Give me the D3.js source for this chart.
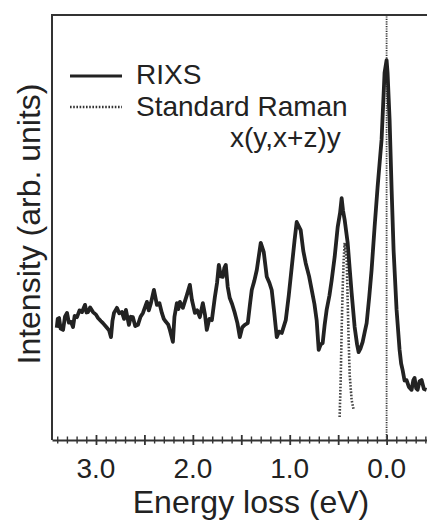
<!DOCTYPE html>
<html>
<head>
    <meta charset="utf-8">
    <title>RIXS vs Raman</title>
    <style>
        body { margin: 0; background: #fff; }
        svg { display: block; font-family: "Liberation Sans", Arial, sans-serif; }
    </style>
</head>
<body>
    <script src="https://cdnjs.cloudflare.com/ajax/libs/d3/7.8.5/d3.min.js"></script>
    <script>

// energy loss (eV) and intensity (arb. units)
var rixsEnergy = [3.405, 3.395, 3.381, 3.365, 3.340, 3.320, 3.299, 3.280, 3.258, 3.237,
    3.220, 3.196, 3.170, 3.144, 3.113, 3.098, 3.082, 3.060, 3.031, 3.000,
    2.979, 2.950, 2.928, 2.887, 2.865, 2.845, 2.830, 2.814, 2.784, 2.760,
    2.732, 2.710, 2.691, 2.660, 2.640, 2.619, 2.595, 2.567, 2.540, 2.515,
    2.474, 2.455, 2.433, 2.402, 2.371, 2.345, 2.320, 2.300, 2.278, 2.255,
    2.237, 2.206, 2.190, 2.165, 2.150, 2.134, 2.103, 2.062, 2.031, 2.010,
    1.979, 1.955, 1.928, 1.897, 1.875, 1.856, 1.830, 1.804, 1.773, 1.750,
    1.732, 1.711, 1.691, 1.675, 1.660, 1.640, 1.619, 1.595, 1.567, 1.540,
    1.515, 1.490, 1.464, 1.433, 1.410, 1.392, 1.365, 1.340, 1.299, 1.268,
    1.237, 1.210, 1.186, 1.160, 1.134, 1.110, 1.082, 1.041, 1.010, 0.979,
    0.950, 0.928, 0.887, 0.860, 0.835, 0.800, 0.773, 0.745, 0.722, 0.701,
    0.680, 0.660, 0.640, 0.619, 0.590, 0.567, 0.536, 0.505, 0.480, 0.464,
    0.450, 0.433, 0.402, 0.380, 0.361, 0.330, 0.305, 0.289, 0.270, 0.247,
    0.225, 0.206, 0.180, 0.155, 0.124, 0.093, 0.052, 0.021, 0.000, -0.010,
    -0.031, -0.052, -0.072, -0.103, -0.134, -0.150, -0.165, -0.185, -0.206, -0.230,
    -0.258, -0.275, -0.289, -0.305, -0.320, -0.340, -0.361, -0.385, -0.412];
var rixsIntensity = [0.264, 0.285, 0.287, 0.262, 0.259, 0.290, 0.299, 0.276, 0.278, 0.266,
    0.292, 0.289, 0.305, 0.301, 0.318, 0.300, 0.301, 0.312, 0.301, 0.295,
    0.287, 0.280, 0.275, 0.264, 0.258, 0.242, 0.280, 0.299, 0.311, 0.298,
    0.301, 0.285, 0.306, 0.271, 0.290, 0.289, 0.268, 0.271, 0.290, 0.299,
    0.325, 0.305, 0.322, 0.353, 0.318, 0.322, 0.299, 0.285, 0.278, 0.272,
    0.259, 0.231, 0.290, 0.322, 0.308, 0.325, 0.311, 0.341, 0.365, 0.330,
    0.299, 0.305, 0.289, 0.322, 0.295, 0.259, 0.285, 0.282, 0.336, 0.370,
    0.412, 0.385, 0.384, 0.405, 0.412, 0.360, 0.334, 0.320, 0.299, 0.275,
    0.242, 0.265, 0.271, 0.275, 0.320, 0.353, 0.375, 0.400, 0.464, 0.442,
    0.384, 0.370, 0.353, 0.300, 0.242, 0.255, 0.252, 0.282, 0.340, 0.407,
    0.470, 0.513, 0.494, 0.445, 0.416, 0.385, 0.353, 0.320, 0.282, 0.212,
    0.225, 0.228, 0.270, 0.306, 0.340, 0.376, 0.431, 0.501, 0.535, 0.569,
    0.540, 0.518, 0.464, 0.400, 0.346, 0.266, 0.225, 0.207, 0.215, 0.231,
    0.255, 0.275, 0.335, 0.400, 0.501, 0.595, 0.706, 0.864, 0.894, 0.864,
    0.753, 0.588, 0.447, 0.306, 0.212, 0.180, 0.165, 0.140, 0.141, 0.125,
    0.118, 0.140, 0.146, 0.122, 0.118, 0.138, 0.141, 0.120, 0.118];

// standard Raman: phonon band and the elastic line at zero loss
var ramanEnergy = [0.485, 0.474, 0.464, 0.454, 0.443, 0.433, 0.412, 0.402, 0.392, 0.381, 0.361, 0.340];
var ramanIntensity = [0.054, 0.141, 0.259, 0.353, 0.424, 0.464, 0.424, 0.329, 0.235, 0.153, 0.094, 0.071];
var elasticEnergy = [0.0, 0.0];
var elasticIntensity = [0.0, 1.0];

var majorTicks = [3.0, 2.5, 2.0, 1.5, 1.0, 0.5, 0.0];
var tickLabels = [3.0, 2.0, 1.0, 0.0];
var legendNames = ["RIXS", "Standard Raman"];
var geometryLabel = "x(y,x+z)y";

var config = {
    width: 427,
    height: 527,
    left: 52,
    top: 15,
    bottom: 440,
    right: 430
};

var svg = d3.select("body").append("svg")
    .attr("width", config.width)
    .attr("height", config.height);

var x = d3.scaleLinear().domain([3.454, -0.448]).range([config.left, config.right]);
var y = d3.scaleLinear().domain([0, 1]).range([config.bottom, config.top]);

var zip = function (xs, ys) {
    return xs.map(function (v, i) { return { e: v, i: ys[i] }; });
};
var line = d3.line()
    .x(function (d) { return x(d.e); })
    .y(function (d) { return y(d.i); });

svg.append("clipPath").attr("id", "clip")
    .append("rect")
    .attr("x", config.left).attr("y", config.top)
    .attr("width", config.right - config.left)
    .attr("height", config.bottom - config.top);

var plot = svg.append("g").attr("clip-path", "url(#clip)");

// elastic line
plot.append("path")
    .datum(zip(elasticEnergy, elasticIntensity))
    .attr("d", line)
    .attr("fill", "none")
    .attr("stroke", "#333")
    .attr("stroke-width", 1.8)
    .attr("stroke-dasharray", "1.2,1.2");

// raman phonon band
plot.append("path")
    .datum(zip(ramanEnergy, ramanIntensity))
    .attr("d", line)
    .attr("fill", "none")
    .attr("stroke", "#444")
    .attr("stroke-width", 2.6)
    .attr("stroke-dasharray", "1.6,1.6");

// rixs
plot.append("path")
    .datum(zip(rixsEnergy, rixsIntensity))
    .attr("d", line)
    .attr("fill", "none")
    .attr("stroke", "#222")
    .attr("stroke-width", 3.8)
    .attr("stroke-linejoin", "round");

// frame
svg.append("path")
    .attr("d", "M" + config.left + "," + config.bottom + "V" + config.top + "H" + config.right)
    .attr("fill", "none")
    .attr("stroke", "#333")
    .attr("stroke-width", 2);

// bottom axis, ticks cross the line
var minorTicks = d3.range(34, -5, -1).map(function (k) { return k / 10; });
var axis = svg.append("g")
    .attr("transform", "translate(0," + config.bottom + ")")
    .call(d3.axisBottom(x).tickValues(minorTicks).tickSize(0).tickFormat(""));
axis.select(".domain").attr("stroke", "#333").attr("stroke-width", 2);
axis.selectAll(".tick line")
    .attr("y1", function (d) { return isMajor(d) ? -5 : -3.5; })
    .attr("y2", function (d) { return isMajor(d) ? 5 : 3.5; })
    .attr("stroke", "#333")
    .attr("stroke-width", function (d) { return isMajor(d) ? 1.8 : 1.4; });

function isMajor(d) {
    return majorTicks.some(function (m) { return Math.abs(m - d) < 1e-6; });
}

svg.append("g").selectAll("text")
    .data(tickLabels)
    .enter().append("text")
    .attr("x", function (d) { return x(d); })
    .attr("y", 478)
    .attr("text-anchor", "middle")
    .attr("font-size", 28)
    .attr("fill", "#222")
    .text(d3.format(".1f"));

// axis titles
svg.append("text")
    .attr("x", 251).attr("y", 513)
    .attr("text-anchor", "middle")
    .attr("font-size", 32)
    .attr("fill", "#222")
    .text("Energy loss (eV)");

svg.append("text")
    .attr("transform", "translate(40,224) rotate(-90)")
    .attr("text-anchor", "middle")
    .attr("font-size", 32)
    .attr("fill", "#222")
    .text("Intensity (arb. units)");

// legend
var legend = svg.append("g");
legend.append("line")
    .attr("x1", 70).attr("x2", 122).attr("y1", 76).attr("y2", 76)
    .attr("stroke", "#222").attr("stroke-width", 3.2);
legend.append("line")
    .attr("x1", 70).attr("x2", 122).attr("y1", 107).attr("y2", 107)
    .attr("stroke", "#333").attr("stroke-width", 2.4)
    .attr("stroke-dasharray", "1.6,1.6");
legend.selectAll("text.name")
    .data(legendNames)
    .enter().append("text")
    .attr("class", "name")
    .attr("x", 136)
    .attr("y", function (d, i) { return 84 + i * 32; })
    .attr("font-size", 28)
    .attr("fill", "#222")
    .text(function (d) { return d; });
legend.append("text")
    .attr("x", 230).attr("y", 147)
    .attr("font-size", 28)
    .attr("fill", "#222")
    .text(geometryLabel);

    </script>
</body>
</html>
